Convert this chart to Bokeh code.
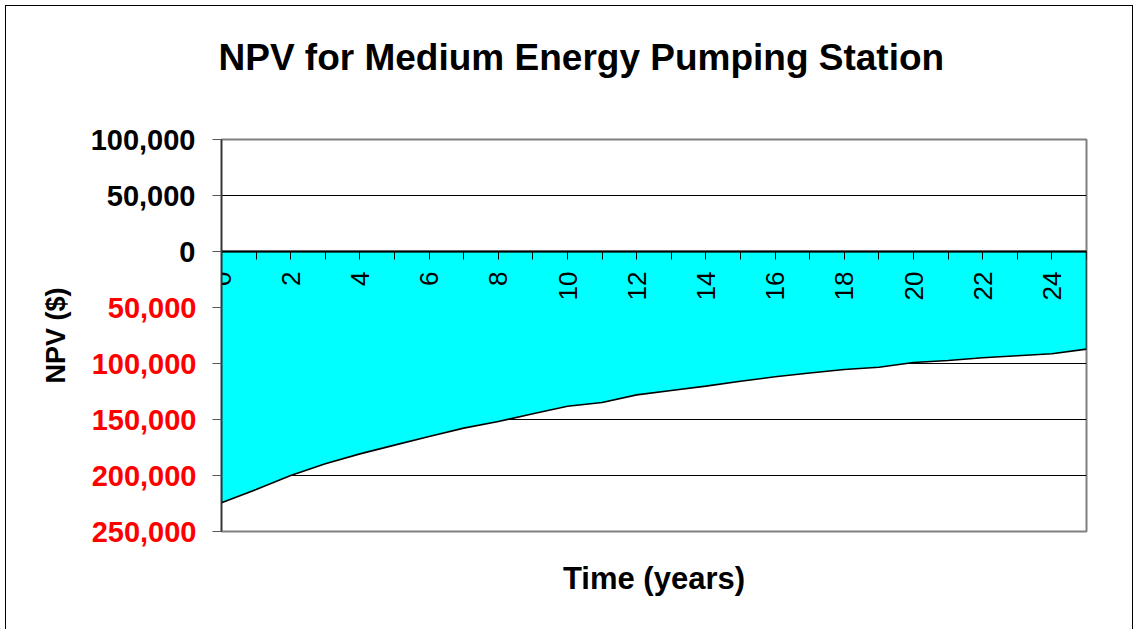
from math import pi
from bokeh.plotting import figure
from bokeh.models import LinearAxis, FixedTicker, Range1d, Title
from bokeh.embed import file_html
from bokeh.resources import INLINE

# ---- data ----
years = list(range(26))
npv = [-224400, -212500, -200000, -189600, -180700, -172900, -165200, -157700,
       -151800, -144900, -138100, -134800, -128000, -124100, -120200, -115800,
       -111900, -108500, -105400, -103300, -99100, -97300, -94900, -93100,
       -91300, -87200]
pos_ticks = [0, 50000, 100000]
pos_labels = ["0", "50,000", "100,000"]
neg_ticks = [-50000, -100000, -150000, -200000, -250000]
neg_labels = ["50,000", "100,000", "150,000", "200,000", "250,000"]
x_label_ticks = list(range(0, 25, 2))
x_minor_ticks = list(range(1, 26, 2))

title_text = "NPV for Medium Energy Pumping Station"
x_title = "Time (years)"
y_title = "NPV ($)"

FONT = "Liberation Sans"

p = figure(width=1126, height=623, output_backend="svg", toolbar_location=None,
           x_range=Range1d(0, 25), y_range=Range1d(-250000, 100000),
           x_axis_location=None, y_axis_location=None,
           min_border_left=215, min_border_right=46,
           min_border_top=133, min_border_bottom=98)
p.margin = (6, 0, 0, 6)
p.styles = {"outline": "1px solid black", "outline-offset": "0px"}
p.background_fill_color = "white"
p.border_fill_color = "white"
p.outline_line_color = "#808080"
p.outline_line_width = 2

all_y = pos_ticks + neg_ticks
p.xgrid.visible = False
p.ygrid.ticker = FixedTicker(ticks=all_y)
p.ygrid.grid_line_color = "black"
p.ygrid.grid_line_width = 1

# invisible spacer axis above the frame, then the title outside it
spacer = LinearAxis(ticker=FixedTicker(ticks=[x_label_ticks[0]], minor_ticks=[]),
                    major_label_overrides={x_label_ticks[0]: ""},
                    major_label_text_font_size="0px", major_label_standoff=0,
                    major_tick_out=62, major_tick_in=0, minor_tick_out=0, minor_tick_in=0,
                    major_tick_line_color=None, minor_tick_line_color=None,
                    axis_line_color=None)
p.add_layout(spacer, "above")

t = Title(text=title_text, align="left", offset=-3,
          text_font=FONT, text_font_style="bold", text_font_size="37px",
          text_color="black", vertical_align="bottom")
t.standoff = 0
p.add_layout(t, "above")

# area
xs = [years[0]] + years + [years[-1]]
ys = [0] + npv + [0]
p.patch(xs, ys, fill_color="#00FFFF", line_color="black", line_width=1.6)

# y axis A (closest to frame): ticks + black labels for non-negative values
ya = LinearAxis(ticker=FixedTicker(ticks=all_y, minor_ticks=[]),
                major_label_overrides={**{tk: lb for tk, lb in zip(pos_ticks, pos_labels)},
                                       **{tk: "" for tk in neg_ticks}},
                major_label_text_color="black",
                major_label_text_font=FONT,
                major_label_text_font_style="bold",
                major_label_text_font_size="29px",
                major_label_standoff=17,
                major_tick_out=9, major_tick_in=0,
                major_tick_line_color="#555555",
                minor_tick_out=0, minor_tick_in=0,
                axis_line_color="#333333", axis_line_width=1.5)
p.add_layout(ya, "left")

# y axis B (outer): red labels for negative values, pulled back over axis A
yb = LinearAxis(ticker=FixedTicker(ticks=neg_ticks, minor_ticks=[]),
                major_label_overrides={tk: lb for tk, lb in zip(neg_ticks, neg_labels)},
                major_label_text_color="#FF0000",
                major_label_text_font=FONT,
                major_label_text_font_style="bold",
                major_label_text_font_size="29px",
                major_label_standoff=-109,
                major_tick_out=0, major_tick_in=0,
                major_tick_line_color=None, minor_tick_line_color=None,
                axis_line_color=None,
                axis_label=y_title, axis_label_text_font=FONT,
                axis_label_text_font_style="bold",
                axis_label_text_font_size="27px",
                axis_label_text_color="black",
                axis_label_standoff=18)
p.add_layout(yb, "left")

# x axis on the zero line
xax = LinearAxis(ticker=FixedTicker(ticks=x_label_ticks, minor_ticks=x_minor_ticks),
                 fixed_location=0,
                 major_label_orientation=pi / 2,
                 major_label_text_font=FONT,
                 major_label_text_font_size="26px",
                 major_label_text_color="black",
                 major_label_standoff=12,
                 major_tick_out=8, major_tick_in=0,
                 minor_tick_out=8, minor_tick_in=0,
                 major_tick_line_color="black", minor_tick_line_color="black",
                 axis_line_color="black", axis_line_width=2)
p.add_layout(xax, "below")

# x axis title holder at the bottom
xt = LinearAxis(ticker=FixedTicker(ticks=[]),
                major_label_text_font_size="0px", major_label_standoff=0,
                major_tick_out=0, major_tick_in=0, minor_tick_out=0, minor_tick_in=0,
                major_tick_line_color=None, minor_tick_line_color=None,
                axis_line_color=None,
                axis_label=x_title, axis_label_text_font=FONT,
                axis_label_text_font_style="bold",
                axis_label_text_font_size="31px",
                axis_label_text_color="black",
                axis_label_standoff=29)
p.add_layout(xt, "below")

open("out.html", "w").write(file_html(p, INLINE))
